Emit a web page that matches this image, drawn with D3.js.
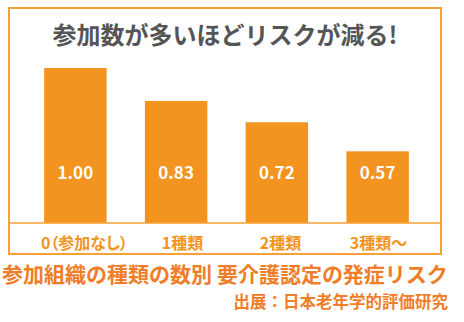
<!DOCTYPE html>
<html><head><meta charset="utf-8">
<script src="https://cdn.jsdelivr.net/npm/d3@7"></script>
<style>
html,body{margin:0;padding:0;background:#fff;}
svg{display:block;}
text{font-family:"Noto Sans CJK JP","Noto Sans",sans-serif;font-weight:700;}
</style></head>
<body>
<script>
const categories = ["0（参加なし）", "1種類", "2種類", "3種類～"];
const values = [1.00, 0.83, 0.72, 0.57];
const valueLabels = ["1.00", "0.83", "0.72", "0.57"];
const title = "参加数が多いほどリスクが減る!";
const caption = "参加組織の種類の数別 要介護認定の発症リスク";
const source = "出展：日本老年学的評価研究";

const W = 464, H = 322;
const svg = d3.select("body").append("svg").attr("width", W).attr("height", H);

const barColor = "#F39320";
const frameColor = "#F6A035";
const capColor = "#F07D28";

// frame
svg.append("rect").attr("x", 9).attr("y", 8).attr("width", 432).attr("height", 246)
  .attr("fill", "none").attr("stroke", frameColor).attr("stroke-width", 2);

svg.append("text").attr("x", 225).attr("y", 44).attr("text-anchor", "middle")
  .attr("font-size", 24).attr("fill", "#555555").text(title);

const x = d3.scaleBand().domain(categories).range([25, 428]).paddingInner(0.38).paddingOuter(0.19);
const y = d3.scaleLinear().domain([0.2, 1.0]).range([223, 68]);
const xl = d3.scalePoint().domain(categories).range([84, 378]);

svg.selectAll("rect.bar").data(values).join("rect").attr("class", "bar")
  .attr("x", (d, i) => x(categories[i])).attr("width", x.bandwidth())
  .attr("y", d => y(d)).attr("height", d => y(0.2) - y(d)).attr("fill", barColor);

svg.selectAll("text.val").data(values).join("text").attr("class", "val")
  .attr("x", (d, i) => x(categories[i]) + x.bandwidth() / 2).attr("y", 179)
  .attr("text-anchor", "middle").attr("font-size", 17).attr("fill", "#fff")
  .text((d, i) => valueLabels[i]);

// baseline
svg.append("line").attr("x1", 9).attr("x2", 441).attr("y1", y(0.2)).attr("y2", y(0.2))
  .attr("stroke", frameColor).attr("stroke-width", 1.5);

const xAxis = d3.axisBottom(xl).tickSize(0).tickPadding(0);
const gx = svg.append("g").attr("transform", `translate(0,${y(0.2)})`).call(xAxis);
gx.select(".domain").remove();
gx.selectAll("text").attr("y", 26).attr("dy", 0).attr("font-size", 16)
  .attr("fill", barColor).style("font-family", '"Noto Sans CJK JP",sans-serif').style("font-weight", 700)
  .style("font-feature-settings", d => d.includes("（") ? '"palt"' : "normal");

svg.append("text").attr("x", 225).attr("y", 282).attr("text-anchor", "middle")
  .attr("font-size", 21).attr("fill", capColor).text(caption);

svg.append("text").attr("x", 448).attr("y", 308).attr("text-anchor", "end")
  .attr("font-size", 16.5).attr("fill", capColor).text(source);
</script>
</body></html>
